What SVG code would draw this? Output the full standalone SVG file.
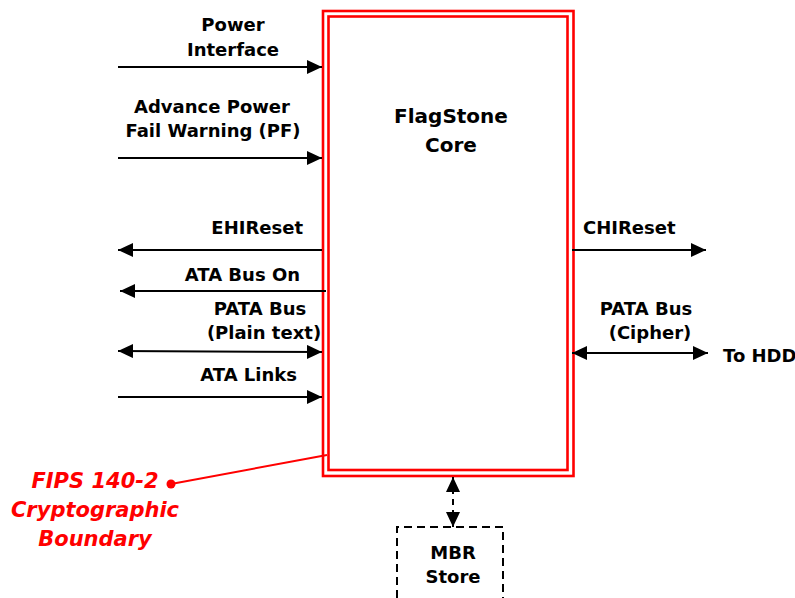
<svg xmlns="http://www.w3.org/2000/svg" width="795" height="598" viewBox="0 0 795 598">
<style>
.lbl{font-family:"DejaVu Sans",sans-serif;font-weight:bold;font-size:18px;fill:#000}
.core{font-family:"DejaVu Sans",sans-serif;font-weight:bold;font-size:20px;fill:#000}
.fips{font-family:"DejaVu Sans",sans-serif;font-weight:bold;font-style:italic;font-size:21px;fill:#ff0000}
.ln{stroke:#000;stroke-width:2;fill:none}
.bnd{stroke:#ff0000;stroke-width:2.6;fill:none}
</style>
<defs>
<marker id="ah" markerUnits="userSpaceOnUse" markerWidth="16" markerHeight="15" refX="15" refY="7" orient="auto-start-reverse" viewBox="0 0 16 15">
<path d="M0,0 L15,7 L0,14 z" fill="#000"/>
</marker>
</defs>
<rect width="795" height="598" fill="#fff"/>
<g id="core">
<rect class="bnd" x="323" y="11" width="250.5" height="465"/>
<rect class="bnd" x="328.5" y="16.5" width="239" height="453.5"/>
<text class="core" x="451" y="123" text-anchor="middle">FlagStone</text>
<text class="core" x="451" y="152" text-anchor="middle">Core</text>
</g>
<g id="mbr">
<path class="ln" d="M397,598 V527 H503 V598" stroke-dasharray="8,5"/>
<text class="lbl" x="453" y="559" text-anchor="middle">MBR</text>
<text class="lbl" x="453" y="583" text-anchor="middle">Store</text>
</g>
<g id="fips">
<text class="fips" x="95" y="488" text-anchor="middle">FIPS 140-2</text>
<text class="fips" x="95" y="517" text-anchor="middle">Cryptographic</text>
<text class="fips" x="95" y="546" text-anchor="middle">Boundary</text>
<circle cx="171" cy="484" r="4.5" fill="#ff0000"/>
<line x1="171" y1="484" x2="327" y2="455" stroke="#ff0000" stroke-width="2"/>
</g>
<g id="labels">
<text class="lbl" x="233" y="31" text-anchor="middle">Power</text>
<text class="lbl" x="233" y="56" text-anchor="middle">Interface</text>
<text class="lbl" x="212" y="113" text-anchor="middle">Advance Power</text>
<text class="lbl" x="213" y="137" text-anchor="middle">Fail Warning (PF)</text>
<text class="lbl" x="303" y="234" text-anchor="end">EHIReset</text>
<text class="lbl" x="300" y="281" text-anchor="end">ATA Bus On</text>
<text class="lbl" x="260" y="315" text-anchor="middle">PATA Bus</text>
<text class="lbl" x="264" y="339" text-anchor="middle">(Plain text)</text>
<text class="lbl" x="297" y="381" text-anchor="end">ATA Links</text>
<text class="lbl" x="583" y="234">CHIReset</text>
<text class="lbl" x="646" y="315" text-anchor="middle">PATA Bus</text>
<text class="lbl" x="650" y="339" text-anchor="middle">(Cipher)</text>
<text class="lbl" x="723" y="362">To HDD</text>
</g>
<g id="connectors">
<line class="ln" x1="118" y1="67" x2="322" y2="67" marker-end="url(#ah)"/>
<line class="ln" x1="118" y1="158" x2="322" y2="158" marker-end="url(#ah)"/>
<line class="ln" x1="322" y1="250" x2="118" y2="250" marker-end="url(#ah)"/>
<line class="ln" x1="326" y1="291" x2="120" y2="291" marker-end="url(#ah)"/>
<line class="ln" x1="118" y1="351" x2="322" y2="352" marker-start="url(#ah)" marker-end="url(#ah)"/>
<line class="ln" x1="118" y1="397" x2="322" y2="397" marker-end="url(#ah)"/>
<line class="ln" x1="572" y1="250" x2="706" y2="250" marker-end="url(#ah)"/>
<line class="ln" x1="572" y1="353" x2="708" y2="353" marker-start="url(#ah)" marker-end="url(#ah)"/>
<line class="ln" x1="453" y1="477" x2="453" y2="527" stroke-dasharray="6,5" marker-start="url(#ah)" marker-end="url(#ah)"/>
</g>
</svg>
